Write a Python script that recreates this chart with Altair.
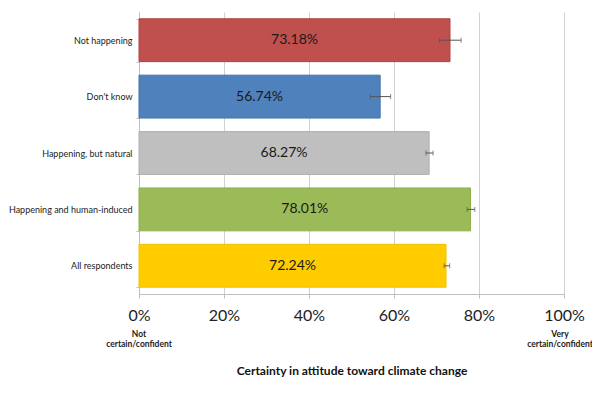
import altair as alt
import pandas as pd

categories = ["Not happening", "Don't know", "Happening, but natural",
              "Happening and human-induced", "All respondents"]
values = [73.18, 56.74, 68.27, 78.01, 72.24]
err_low = [70.7, 54.4, 67.5, 77.2, 71.8]
err_high = [75.8, 59.2, 69.2, 79.0, 73.1]
colors = ["#C0504D", "#4F81BD", "#BFBFBF", "#9BBB59", "#FFCC00"]
strokes = ["#B0433F", "#4472A8", "#B0B0B0", "#8DAE4C", "#F2C200"]
value_labels = ["73.18%", "56.74%", "68.27%", "78.01%", "72.24%"]

left_end_pos = [0]
left_end_text = [["Not", "certain/confident"]]
right_end_pos = [100]
right_end_text = [["Very", "certain/confident"]]

FONT = "Lato"

df = pd.DataFrame({
    "category": categories,
    "value": values,
    "lo": err_low,
    "hi": err_high,
    "label": value_labels,
})
ends_l = pd.DataFrame({"pos": left_end_pos, "txt": left_end_text})
ends_r = pd.DataFrame({"pos": right_end_pos, "txt": right_end_text})

y_enc = alt.Y(
    "category:N",
    sort=categories,
    scale=alt.Scale(paddingInner=0.24, paddingOuter=0.12),
    axis=alt.Axis(
        title=None, labelFont=FONT, labelFontSize=9, labelColor="#222222",
        labelPadding=4, tickSize=3, tickColor="#BFBFBF", tickBand="extent",
        domainColor="#BFBFBF", grid=False, labelLimit=200,
    ),
)

x_scale = alt.Scale(domain=[0, 100], nice=False)

bars = alt.Chart(df).mark_bar(strokeWidth=1).encode(
    x=alt.X(
        "value:Q", scale=x_scale,
        axis=alt.Axis(
            values=[0, 20, 40, 60, 80, 100],
            labelExpr="datum.value + '%'",
            labelFont=FONT, labelFontSize=16, labelColor="#222222",
            labelPadding=9, tickSize=4, tickColor="#BFBFBF", labelFlush=False,
            domainColor="#BFBFBF", gridColor="#D0D0D0",
            title="Certainty in attitude toward climate change",
            titleFont=FONT, titleFontSize=12, titleFontWeight="bold",
            titleColor="#111111", titlePadding=42,
        ),
    ),
    y=y_enc,
    color=alt.Color("category:N", scale=alt.Scale(domain=categories, range=colors), legend=None),
    stroke=alt.Stroke("category:N", scale=alt.Scale(domain=categories, range=strokes), legend=None),
)

texts = alt.Chart(df).transform_calculate(mid="datum.value / 2").mark_text(
    font=FONT, fontSize=14, color="#1A1A1A"
).encode(
    x=alt.X("mid:Q", scale=x_scale),
    y=alt.Y("category:N", sort=categories),
    text="label:N",
)

err_rule = alt.Chart(df).mark_rule(color="#555555", strokeWidth=1).encode(
    x=alt.X("lo:Q", scale=x_scale),
    x2="hi:Q",
    y=alt.Y("category:N", sort=categories),
)
cap_lo = alt.Chart(df).mark_tick(color="#555555", thickness=1, size=5, orient="vertical").encode(
    x=alt.X("lo:Q", scale=x_scale),
    y=alt.Y("category:N", sort=categories),
)
cap_hi = alt.Chart(df).mark_tick(color="#555555", thickness=1, size=5, orient="vertical").encode(
    x=alt.X("hi:Q", scale=x_scale),
    y=alt.Y("category:N", sort=categories),
)

end_style = dict(font=FONT, fontSize=8.5, fontWeight="bold", color="#222222",
                 baseline="top", lineHeight=10)
end_l = alt.Chart(ends_l).mark_text(**end_style).encode(
    x=alt.X("pos:Q", scale=x_scale), y=alt.value(318), text="txt",
)
end_r = alt.Chart(ends_r).mark_text(dx=-4, **end_style).encode(
    x=alt.X("pos:Q", scale=x_scale), y=alt.value(318), text="txt",
)

chart = alt.layer(bars, texts, err_rule, cap_lo, cap_hi, end_l, end_r).properties(
    width=425,
    height=282,
    padding={"left": 131, "top": 4, "right": 28, "bottom": 95},
    autosize=alt.AutoSizeParams(type="none"),
    background="white",
).configure_view(stroke=None)

chart.save("out.html", embed_options={"renderer": "svg", "actions": False})
